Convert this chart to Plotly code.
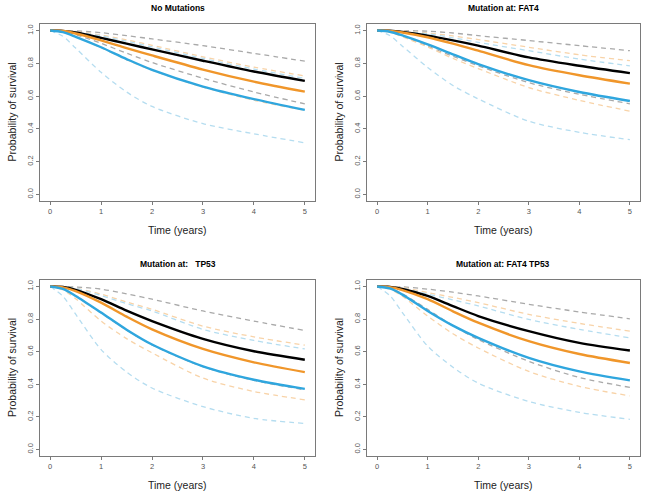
import plotly.graph_objects as go

# ---------------- data ----------------
time_years = [0, 0.25, 0.5, 1, 1.5, 2, 3, 4, 5]

panel_titles = ["No Mutations", "Mutation at: FAT4", "Mutation at:   TP53", "Mutation at: FAT4 TP53"]

# Panel 1: No Mutations
p1_black = [1, 0.998, 0.988, 0.955, 0.920, 0.885, 0.816, 0.750, 0.693]
p1_black_hi = [1, 1, 0.998, 0.987, 0.969, 0.949, 0.908, 0.861, 0.813]
p1_black_lo = [1, 0.995, 0.975, 0.922, 0.862, 0.805, 0.709, 0.625, 0.553]
p1_orange = [1, 0.997, 0.982, 0.940, 0.893, 0.848, 0.762, 0.688, 0.627]
p1_orange_hi = [1, 0.999, 0.994, 0.973, 0.943, 0.910, 0.840, 0.777, 0.723]
p1_orange_lo = [1, 0.990, 0.962, 0.895, 0.822, 0.758, 0.655, 0.575, 0.513]
p1_blue = [1, 0.990, 0.962, 0.898, 0.826, 0.760, 0.658, 0.582, 0.516]
p1_blue_hi = [1, 0.999, 0.992, 0.967, 0.935, 0.900, 0.830, 0.765, 0.708]
p1_blue_lo = [1, 0.965, 0.893, 0.745, 0.625, 0.537, 0.432, 0.370, 0.315]

# Panel 2: FAT4
p2_black = [1, 0.999, 0.992, 0.969, 0.940, 0.908, 0.836, 0.785, 0.740]
p2_black_hi = [1, 1, 1, 0.996, 0.985, 0.969, 0.939, 0.908, 0.877]
p2_black_lo = [1, 0.993, 0.968, 0.905, 0.843, 0.785, 0.682, 0.611, 0.553]
p2_orange = [1, 0.998, 0.988, 0.959, 0.920, 0.877, 0.789, 0.727, 0.676]
p2_orange_hi = [1, 1, 0.997, 0.985, 0.967, 0.945, 0.898, 0.852, 0.816]
p2_orange_lo = [1, 0.990, 0.962, 0.900, 0.830, 0.768, 0.652, 0.574, 0.508]
p2_blue = [1, 0.993, 0.970, 0.915, 0.855, 0.795, 0.697, 0.625, 0.570]
p2_blue_hi = [1, 1, 0.996, 0.980, 0.956, 0.928, 0.877, 0.826, 0.785]
p2_blue_lo = [1, 0.970, 0.905, 0.775, 0.665, 0.583, 0.447, 0.379, 0.334]

# Panel 3: TP53
p3_black = [1, 0.997, 0.980, 0.922, 0.852, 0.788, 0.679, 0.603, 0.551]
p3_black_hi = [1, 1, 0.997, 0.984, 0.955, 0.922, 0.850, 0.788, 0.730]
p3_black_lo = [1, 0.985, 0.942, 0.838, 0.733, 0.642, 0.508, 0.424, 0.366]
p3_orange = [1, 0.995, 0.972, 0.901, 0.815, 0.737, 0.617, 0.535, 0.475]
p3_orange_hi = [1, 0.999, 0.990, 0.953, 0.905, 0.860, 0.757, 0.691, 0.640]
p3_orange_lo = [1, 0.980, 0.925, 0.788, 0.680, 0.593, 0.438, 0.356, 0.305]
p3_blue = [1, 0.985, 0.942, 0.840, 0.735, 0.644, 0.510, 0.428, 0.372]
p3_blue_hi = [1, 0.999, 0.988, 0.945, 0.895, 0.850, 0.737, 0.669, 0.617]
p3_blue_lo = [1, 0.940, 0.830, 0.613, 0.475, 0.377, 0.263, 0.191, 0.160]

# Panel 4: FAT4 TP53
p4_black = [1, 0.998, 0.985, 0.942, 0.880, 0.819, 0.726, 0.654, 0.607]
p4_black_hi = [1, 1, 0.998, 0.984, 0.965, 0.942, 0.891, 0.844, 0.802]
p4_black_lo = [1, 0.990, 0.955, 0.860, 0.760, 0.675, 0.541, 0.442, 0.381]
p4_orange = [1, 0.996, 0.978, 0.922, 0.848, 0.778, 0.665, 0.586, 0.531]
p4_orange_hi = [1, 1, 0.994, 0.963, 0.933, 0.901, 0.829, 0.774, 0.726]
p4_orange_lo = [1, 0.985, 0.940, 0.819, 0.710, 0.623, 0.479, 0.387, 0.329]
p4_blue = [1, 0.988, 0.950, 0.850, 0.760, 0.685, 0.562, 0.479, 0.424]
p4_blue_hi = [1, 0.999, 0.990, 0.953, 0.918, 0.881, 0.798, 0.737, 0.685]
p4_blue_lo = [1, 0.945, 0.840, 0.634, 0.505, 0.407, 0.294, 0.228, 0.185]

x_ticks = [0, 1, 2, 3, 4, 5]
y_ticks = [0.0, 0.2, 0.4, 0.6, 0.8, 1.0]
y_tick_text = ["0.0", "0.2", "0.4", "0.6", "0.8", "1.0"]

panels = [
    (p1_black, p1_black_hi, p1_black_lo, p1_orange, p1_orange_hi, p1_orange_lo, p1_blue, p1_blue_hi, p1_blue_lo),
    (p2_black, p2_black_hi, p2_black_lo, p2_orange, p2_orange_hi, p2_orange_lo, p2_blue, p2_blue_hi, p2_blue_lo),
    (p3_black, p3_black_hi, p3_black_lo, p3_orange, p3_orange_hi, p3_orange_lo, p3_blue, p3_blue_hi, p3_blue_lo),
    (p4_black, p4_black_hi, p4_black_lo, p4_orange, p4_orange_hi, p4_orange_lo, p4_blue, p4_blue_hi, p4_blue_lo),
]

# ---------------- styling ----------------
W, H = 648, 497
BLACK = "#000000"
ORANGE = "#F0962A"
BLUE = "#2FA6DE"
GREY_D = "#A9A9A9"
ORANGE_D = "#F8D3A8"
BLUE_D = "#B5DDF0"
DASH = "5px,4px"
FONT = "Liberation Sans, Arial, sans-serif"

# plot boxes in pixels: (left, right, top, bottom)
boxes = [(40, 315, 24, 201), (367, 640, 24, 201), (40, 315, 280, 456), (367, 640, 280, 456)]

fig = go.Figure()
annotations = []

for i, (data, box) in enumerate(zip(panels, boxes)):
    k = "" if i == 0 else str(i + 1)
    xa, ya = "x" + k, "y" + k
    bk, bk_hi, bk_lo, org, org_hi, org_lo, bl, bl_hi, bl_lo = data
    dashed = [(bk_hi, GREY_D), (bk_lo, GREY_D), (org_hi, ORANGE_D), (org_lo, ORANGE_D),
              (bl_hi, BLUE_D), (bl_lo, BLUE_D)]
    for ys, c in dashed:
        fig.add_trace(go.Scatter(x=time_years, y=ys, mode="lines", xaxis=xa, yaxis=ya,
                                 line=dict(color=c, width=1.3, dash=DASH, shape="spline", smoothing=0.8),
                                 showlegend=False, hoverinfo="skip"))
    for ys, c in [(bk, BLACK), (org, ORANGE), (bl, BLUE)]:
        fig.add_trace(go.Scatter(x=time_years, y=ys, mode="lines", xaxis=xa, yaxis=ya,
                                 line=dict(color=c, width=2.4, shape="spline", smoothing=0.8),
                                 showlegend=False, hoverinfo="skip"))

    l, r, t, b = box
    xdom = [l / W, r / W]
    ydom = [1 - b / H, 1 - t / H]
    axis_common = dict(showline=True, linecolor="#7a7a7a", linewidth=1, mirror=True,
                       ticks="outside", ticklen=3, tickcolor="#7a7a7a", tickwidth=1,
                       showgrid=False, zeroline=False,
                       tickfont=dict(family=FONT, size=7.5, color="#555555"))
    fig.update_layout(**{
        ("xaxis" + k): dict(domain=xdom, range=[-0.2, 5.2], tickvals=x_ticks, anchor=ya, **axis_common),
        ("yaxis" + k): dict(domain=ydom, range=[-0.04, 1.04], tickvals=y_ticks, ticktext=y_tick_text,
                            tickangle=-90, anchor=xa, **axis_common),
    })
    cx = (l + r) / 2
    cy = (t + b) / 2
    annotations.append(dict(text="<b>" + panel_titles[i] + "</b>", x=cx / W, y=1 - (t - 16.5) / H,
                            xref="paper", yref="paper", showarrow=False, xanchor="center", yanchor="middle",
                            font=dict(family=FONT, size=8.5, color="#000000")))
    annotations.append(dict(text="Time (years)", x=cx / W, y=1 - (b + 29) / H,
                            xref="paper", yref="paper", showarrow=False, xanchor="center", yanchor="middle",
                            font=dict(family=FONT, size=10.5, color="#222222")))
    annotations.append(dict(text="Probability of survival", x=(l - 28) / W, y=1 - cy / H,
                            xref="paper", yref="paper", showarrow=False, xanchor="center", yanchor="middle",
                            textangle=-90, font=dict(family=FONT, size=10.5, color="#222222")))

fig.update_layout(width=W, height=H, margin=dict(l=0, r=0, t=0, b=0),
                  paper_bgcolor="white", plot_bgcolor="white", annotations=annotations,
                  font=dict(family=FONT))

fig.write_html("out.html", config={"displayModeBar": False},
               post_script="document.body.style.margin='0';document.body.style.overflow='hidden';")
